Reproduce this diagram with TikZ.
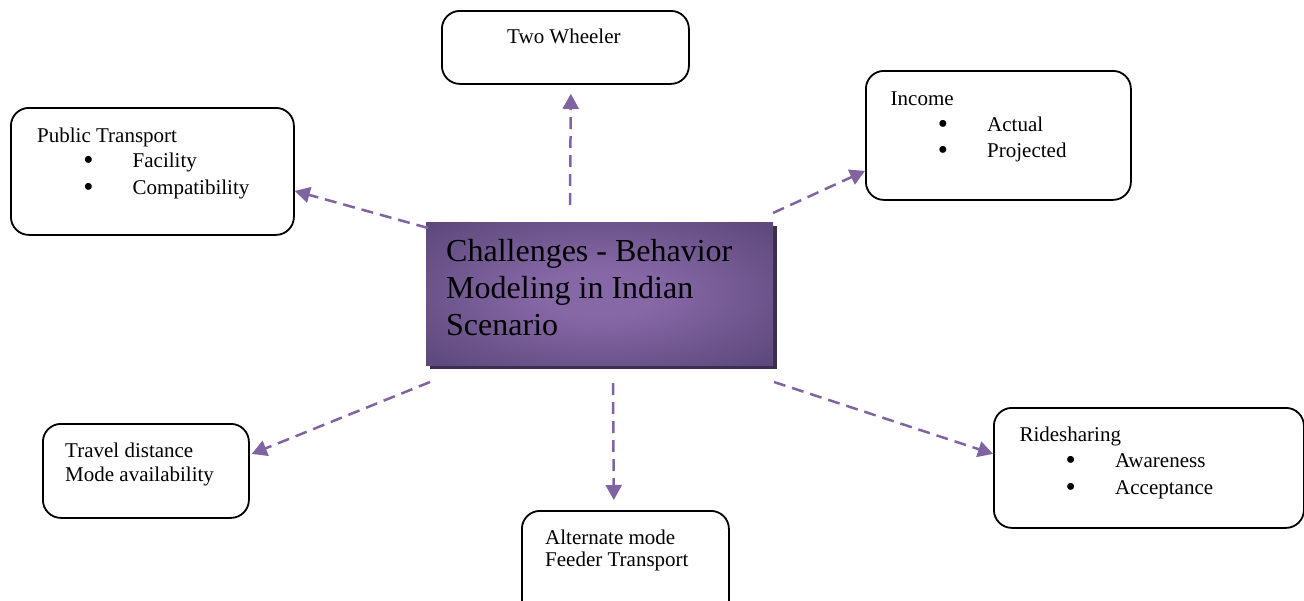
\documentclass[tikz,border=0pt]{standalone}
\usepackage{fontspec}
\setmainfont{Liberation Serif}
\usetikzlibrary{arrows.meta,shadows}
\definecolor{arrowpurple}{HTML}{8064A2}
\definecolor{boxdark}{HTML}{5D497B}
\definecolor{boxlight}{HTML}{8768A7}
\definecolor{shadowdark}{HTML}{3B2F4F}
\pgfdeclareradialshading{centershade}{\pgfpoint{0bp}{0bp}}{color(0bp)=(boxlight); color(8bp)=(boxlight); color(34bp)=(boxdark); color(50bp)=(boxdark)}
\begin{document}
\begin{tikzpicture}[x=1pt,y=-1pt,
  box/.style={draw=black, line width=1.8pt, rounded corners=18pt, fill=white, anchor=north west, inner sep=0pt},
  txt/.style={anchor=base west, inner sep=0pt, font=\fontsize{21}{24}\selectfont},
  bul/.style={anchor=base, inner sep=0pt, yshift=-2.2pt, font=\fontsize{29}{30}\selectfont},
  big/.style={anchor=base west, inner sep=0pt, font=\fontsize{32}{37}\selectfont},
  conn/.style={draw=arrowpurple, line width=2.5pt, dash pattern=on 12pt off 7pt, -{Triangle[length=15pt,width=16pt]}}
]
\useasboundingbox (0,0) rectangle (1304,600);
\clip (0,0) rectangle (1304,600);

% outer boxes
\node[box, minimum width=247pt, minimum height=73pt] (tw) at (441,10) {};
\node[box, minimum width=283pt, minimum height=127pt] (pt) at (10,107) {};
\node[box, minimum width=265pt, minimum height=129pt] (inc) at (865,70) {};
\node[box, minimum width=206pt, minimum height=94pt] (tr) at (42,423) {};
\node[box, minimum width=207pt, minimum height=120pt] (am) at (521,510) {};
\node[box, minimum width=310pt, minimum height=120pt] (rs) at (993,407) {};

% central box
\node[anchor=north west, inner sep=0pt, minimum width=347pt, minimum height=143pt,
      shading=centershade,
      drop shadow={shadow xshift=3.5pt, shadow yshift=-3.5pt, fill=shadowdark, opacity=1}] (ch) at (426,222) {};
\node[big] (ch1) at (446,261.7) {Challenges - Behavior};
\node[big] (ch2) at (446,298.3) {Modeling in Indian};
\node[big] (ch3) at (446,335) {Scenario};

% texts
\node[txt] (tw1) at (507,43.5) {Two Wheeler};

\node[txt] (pt1) at (37,142.5) {Public Transport};
\node[bul] (ptb1) at (88.5,167.7) {•};
\node[txt] (pt2) at (132.5,167.7) {Facility};
\node[bul] (ptb2) at (88.5,194.3) {•};
\node[txt] (pt3) at (132.5,194.3) {Compatibility};

\node[txt] (in1) at (890.5,105) {Income};
\node[bul] (inb1) at (943,131) {•};
\node[txt] (in2) at (987,131) {Actual};
\node[bul] (inb2) at (943,157.5) {•};
\node[txt] (in3) at (987,157.5) {Projected};

\node[txt] (tr1) at (65,457.3) {Travel distance};
\node[txt] (tr2) at (65,481.5) {Mode availability};

\node[txt] (am1) at (545,544) {Alternate mode};
\node[txt] (am2) at (545,566.7) {Feeder Transport};

\node[txt] (rs1) at (1019.3,441.7) {Ridesharing};
\node[bul] (rsb1) at (1070.7,467.3) {•};
\node[txt] (rs2) at (1115,467.3) {Awareness};
\node[bul] (rsb2) at (1070.7,494) {•};
\node[txt] (rs3) at (1115,494) {Acceptance};

% connector start points
\coordinate (sup) at (570,205);
\coordinate (spt) at (428,228);
\coordinate (sinc) at (773,213);
\coordinate (str) at (430,382);
\coordinate (sdn) at (613,383);
\coordinate (srs) at (774,382);

% connectors
\draw[conn, shorten >=9pt] (sup) -- ([xshift=5.5pt]tw.south);
\draw[conn] (spt) -- ([yshift=-19.5pt]pt.east);
\draw[conn] (sinc) -- ([yshift=-35.5pt]inc.west);
\draw[conn] (str) -- ([xshift=2pt,yshift=17pt]tr.east);
\draw[conn, shorten >=10pt] (sdn) -- ([xshift=-11.5pt]am.north);
\draw[conn] (srs) -- ([yshift=14pt]rs.west);
\end{tikzpicture}
\end{document}
